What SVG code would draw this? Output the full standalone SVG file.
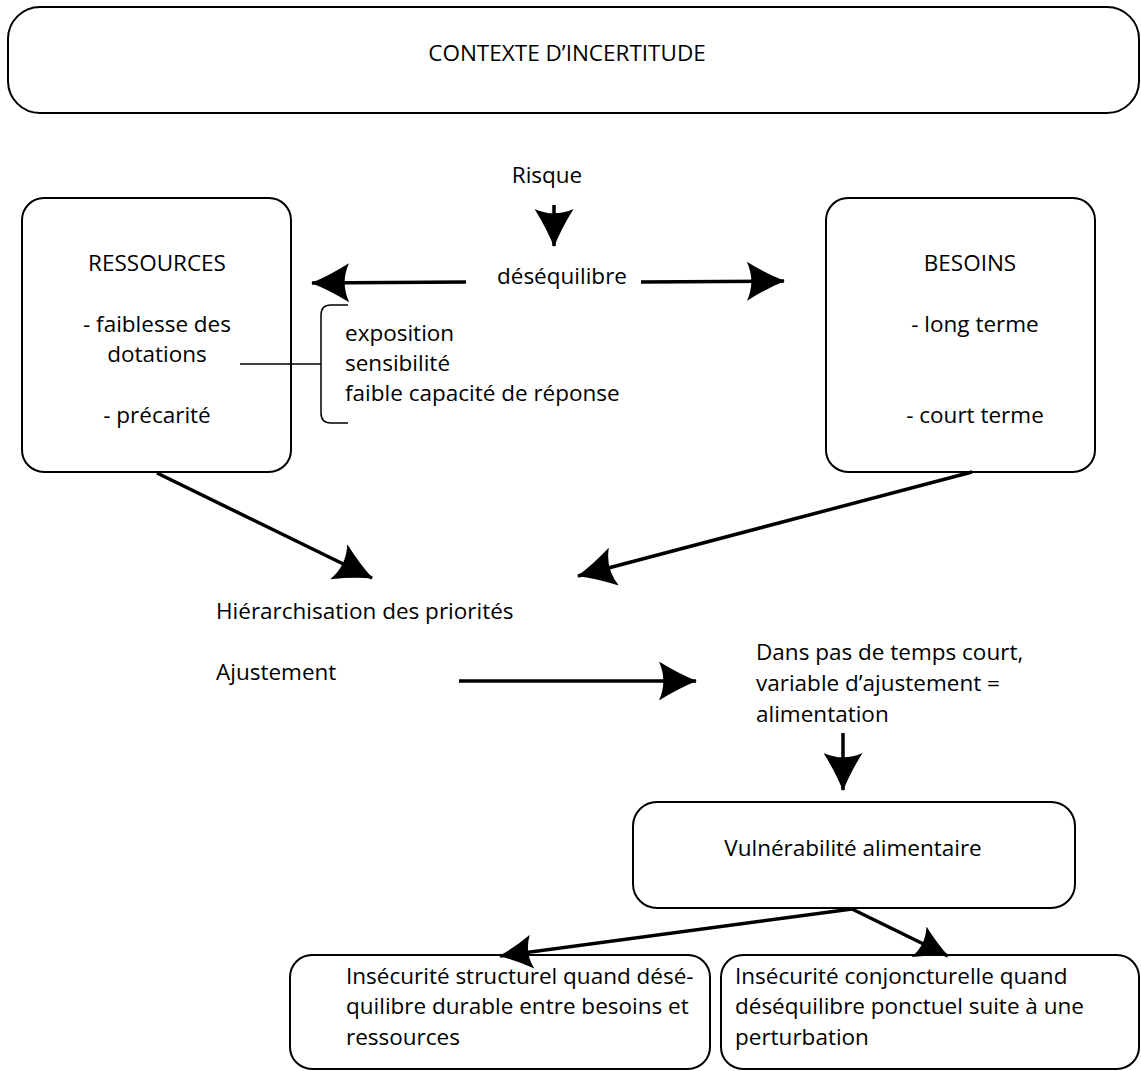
<svg xmlns="http://www.w3.org/2000/svg" width="1141" height="1071" viewBox="0 0 1141 1071">
<style>
.box{fill:#fff;stroke:#000;stroke-width:2}
.t{font-family:"Open Sans","Noto Sans",sans-serif;font-size:22.5px;fill:#000}
.c{text-anchor:middle}
.ar{stroke:#000;stroke-width:3.5;fill:none}
.ln{stroke:#000;stroke-width:1.5;fill:none}
</style>
<defs>
<marker id="ah" markerUnits="userSpaceOnUse" viewBox="0 0 40 40" markerWidth="39" markerHeight="39" refX="39" refY="20" orient="auto">
<path d="M40,20 Q22,13 1,0 Q10,20 1,40 Q22,27 40,20 Z" fill="#000"/>
</marker>
<marker id="ahs" markerUnits="userSpaceOnUse" viewBox="0 0 40 40" markerWidth="34" markerHeight="34" refX="39" refY="20" orient="auto">
<path d="M40,20 Q22,13 1,0 Q10,20 1,40 Q22,27 40,20 Z" fill="#000"/>
</marker>
</defs>

<g id="contexte">
<rect class="box" x="8" y="7" width="1131" height="106" rx="32"/>
<text class="t c" x="567" y="61">CONTEXTE D’INCERTITUDE</text>
</g>

<g id="ressources">
<rect class="box" x="22" y="198" width="269" height="274" rx="22"/>
<text class="t c" x="157" y="271">RESSOURCES</text>
<text class="t c" x="157" y="332">- faiblesse des</text>
<text class="t c" x="157" y="362">dotations</text>
<text class="t c" x="157" y="423">- précarité</text>
</g>

<g id="besoins">
<rect class="box" x="826" y="198" width="269" height="274" rx="22"/>
<text class="t c" x="970" y="271">BESOINS</text>
<text class="t c" x="975" y="332">- long terme</text>
<text class="t c" x="975" y="423">- court terme</text>
</g>

<g id="risque"><text class="t c" x="547" y="183">Risque</text></g>
<g id="desequilibre"><text class="t" x="497" y="284">déséquilibre</text></g>

<g id="facteurs">
<path class="ln" d="M348,305 H331 Q321,305 321,315 V413 Q321,423 331,423 H348"/>
<text class="t" x="345" y="341">exposition</text>
<text class="t" x="345" y="371">sensibilité</text>
<text class="t" x="345" y="401">faible capacité de réponse</text>
</g>

<g id="hierarchisation"><text class="t" x="216" y="619">Hiérarchisation des priorités</text></g>
<g id="ajustement"><text class="t" x="216" y="680">Ajustement</text></g>
<g id="dans-pas">
<text class="t" x="756" y="660">Dans pas de temps court,</text>
<text class="t" x="756" y="691">variable d’ajustement =</text>
<text class="t" x="756" y="722">alimentation</text>
</g>

<g id="vulnerabilite">
<rect class="box" x="633" y="802" width="442" height="106" rx="24"/>
<text class="t c" x="853" y="856">Vulnérabilité alimentaire</text>
</g>

<g id="structurel">
<rect class="box" x="290" y="955" width="420" height="114" rx="22"/>
<text class="t" x="346" y="984">Insécurité structurel quand désé-</text>
<text class="t" x="346" y="1014">quilibre durable entre besoins et</text>
<text class="t" x="346" y="1045">ressources</text>
</g>

<g id="conjoncturel">
<rect class="box" x="721" y="955" width="418" height="114" rx="22"/>
<text class="t" x="735" y="984">Insécurité conjoncturelle quand</text>
<text class="t" x="735" y="1014">déséquilibre ponctuel suite à une</text>
<text class="t" x="735" y="1045">perturbation</text>
</g>

<g id="connectors">
<line class="ln" x1="240" y1="364" x2="321" y2="364"/>
<line class="ar" x1="554" y1="205" x2="554" y2="246" marker-end="url(#ah)"/>
<line class="ar" x1="466" y1="282" x2="312" y2="283" marker-end="url(#ah)"/>
<line class="ar" x1="641" y1="282" x2="784" y2="281" marker-end="url(#ah)"/>
<line class="ar" x1="157" y1="473" x2="372" y2="578" marker-end="url(#ah)"/>
<line class="ar" x1="972" y1="472" x2="578" y2="576" marker-end="url(#ah)"/>
<line class="ar" x1="459" y1="681" x2="696" y2="681" marker-end="url(#ah)"/>
<line class="ar" x1="843" y1="733" x2="843" y2="790" marker-end="url(#ah)"/>
<line class="ar" x1="852" y1="909" x2="500" y2="956" marker-end="url(#ahs)"/>
<line class="ar" x1="852" y1="909" x2="948" y2="956" marker-end="url(#ahs)"/>
</g>
</svg>
